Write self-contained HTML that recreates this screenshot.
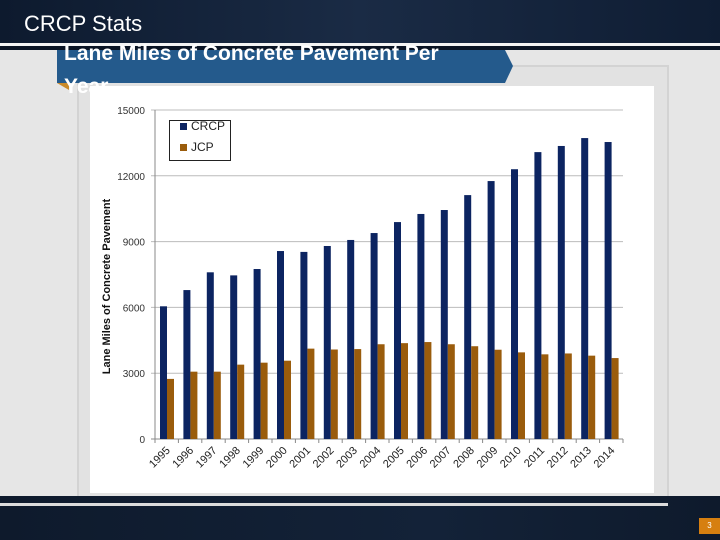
<!DOCTYPE html>
<html><head><meta charset="utf-8"><style>
body{margin:0;width:720px;height:540px;overflow:hidden;background:#e6e6e6;font-family:"Liberation Sans",sans-serif;position:relative}
div{position:absolute}
</style></head><body>
<div style="left:0;top:0;width:720px;height:43px;background:linear-gradient(90deg,#0d1a2e,#1a2b45 50%,#0f1d33)"></div>
<div style="left:0;top:43px;width:720px;height:3px;background:#f4f4f4"></div>
<div style="left:0;top:46px;width:720px;height:4px;background:#0a1424"></div>
<div style="left:24px;top:11px;font-size:22px;color:#fff">CRCP Stats</div>
<div style="left:77px;top:65px;width:588px;height:438px;border:2px solid #d3d3d3;background:#e2e2e2"></div>
<svg style="position:absolute;left:57px;top:50px" width="460" height="40"><polygon points="0,0 448,0 456,16 448,33 0,33" fill="#245a8c"/><polygon points="0,33 12,33 12,40" fill="#c98a2a"/></svg>
<div style="left:64px;top:37px;font-size:21px;font-weight:bold;color:#fff;line-height:33px;width:460px;white-space:nowrap">Lane Miles of Concrete Pavement Per<br>Year</div>
<div style="left:90px;top:86px;width:564px;height:407px;background:#fff"></div>
<div style="left:0;top:496px;width:720px;height:44px;background:linear-gradient(90deg,#0e1a2c,#132238 60%,#0e1a2c)"></div>
<div style="left:0;top:503px;width:668px;height:3px;background:#dcdcdc"></div>
<div style="left:699px;top:518px;width:21px;height:16px;background:#d67f10;color:#fff;font-size:8px;text-align:center;line-height:16px">3</div>
<svg id="chart" style="position:absolute;left:0;top:0" width="720" height="540"></svg>
<script>
const years=["1995","1996","1997","1998","1999","2000","2001","2002","2003","2004","2005","2006","2007","2008","2009","2010","2011","2012","2013","2014"];
const crcp=[6050,6790,7600,7460,7750,8570,8530,8800,9075,9390,9890,10260,10440,11120,11760,12300,13080,13360,13720,13540];
const jcp=[2740,3070,3070,3390,3480,3570,4120,4080,4100,4320,4370,4420,4320,4230,4070,3950,3860,3900,3800,3690];
const yTicks=[0,3000,6000,9000,12000,15000];
const NS="http://www.w3.org/2000/svg",svg=document.getElementById('chart');
const L=155,R=623,T=110,B=439,yMax=15000;
const y=v=>B-(v/yMax)*(B-T);
const band=(R-L)/years.length;
const x=i=>L+i*band;
function mk(t,a,txt){const e=document.createElementNS(NS,t);for(const k in a)e.setAttribute(k,a[k]);if(txt!==undefined)e.textContent=txt;svg.appendChild(e);return e;}
yTicks.forEach(v=>{
 const g=mk('line',{x1:L-4,x2:R,y1:y(v),y2:y(v),stroke:v===0?'#888':'#bcbcbc','stroke-width':1});
 
 
 const t=mk('text',{x:L-10,y:y(v)+4,'text-anchor':'end','font-size':10,fill:'#333','font-family':'Liberation Sans, sans-serif'},String(v));
 
 
});
const ax=mk('line',{x1:L,x2:L,y1:T,y2:B,stroke:'#888'});


years.forEach((yr,i)=>{
 const b1=mk('rect',{x:x(i)+5,y:y(crcp[i]),width:7,height:B-y(crcp[i]),fill:'#0c2461'});
 
 
 const b2=mk('rect',{x:x(i)+12,y:y(jcp[i]),width:7,height:B-y(jcp[i]),fill:'#9a5c0c'});
 
 
 const tk=mk('line',{x1:x(i),x2:x(i),y1:B,y2:B+4,stroke:'#888'});
 
 
 const cx=x(i)+band/2+4;
 const t=mk('text',{x:cx,y:B+12,'text-anchor':'end','font-size':11,fill:'#222','font-family':'Liberation Sans, sans-serif',transform:`rotate(-45 ${cx} ${B+12})`},yr);
 
 
});
const te=mk('line',{x1:R,x2:R,y1:B,y2:B+4,stroke:'#888'});


const yt=mk('text',{x:110,y:(T+B)/2+12,'text-anchor':'middle','font-size':11,'font-weight':'bold',fill:'#111','font-family':'Liberation Sans, sans-serif',transform:`rotate(-90 110 ${(T+B)/2+12})`},'Lane Miles of Concrete Pavement');


const lg=mk('rect',{x:169.5,y:120.5,width:61,height:40,fill:'#fff',stroke:'#222'});


[['CRCP','#0c2461',130],['JCP','#9a5c0c',151]].forEach(([n,c,yy])=>{
 const s=mk('rect',{x:180,y:yy-7,width:7,height:7,fill:c});
 
 
 const t=mk('text',{x:191,y:yy,'font-size':12,fill:'#222','font-family':'Liberation Sans, sans-serif'},n);
 
 
});
</script>
</body></html>
